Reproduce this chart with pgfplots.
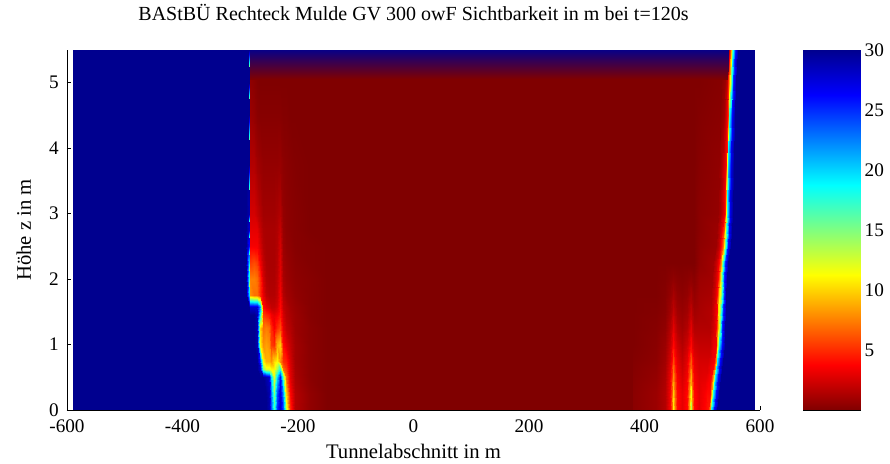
\documentclass[border=0pt]{standalone}
\usepackage{fontspec}
\setmainfont{Liberation Serif}
\usepackage{pgfplots}
\pgfplotsset{compat=1.18}
% band colormap first, reversed jet last (the last one defined is the active one)
\pgfplotsset{
  colormap={bandmap}{rgb255=(128,0,0) rgb255=(0,0,143)},
  colormap={jetrev}{rgb255(0cm)=(128,0,0); rgb255(1cm)=(255,0,0); rgb255(3cm)=(255,255,0);
    rgb255(5cm)=(0,255,255); rgb255(7cm)=(0,0,255); rgb255(8cm)=(0,0,143)},
}
\newcommand{\lblfont}{\fontsize{15.5}{18}\selectfont}
\newcommand{\ttlfont}{\fontsize{15}{18}\selectfont}
\newcommand{\tckfont}{\fontsize{14.4}{16}\selectfont}

\begin{document}
\begin{tikzpicture}
\begin{axis}[
  scale only axis, width=519.75pt, height=270pt,
  at={(0,0)}, anchor=south west,
  xmin=-600, xmax=600, ymin=0, ymax=5.5,
  xtick={-600,-400,...,600}, ytick={0,1,...,5},
  axis x line*=bottom, axis y line*=left,
  tick align=inside, major tick length=3pt,
  axis line style={line width=0.6pt},
  tick style={line width=0.6pt, black},
  /pgf/number format/assume math mode=true,
  tick label style={font=\tckfont},
  xticklabel style={anchor=base, yshift=-17.25pt},
  yticklabel style={anchor=east, xshift=-2.7pt},
  colormap name=jetrev, point meta min=0, point meta max=30,
  title={BAStBÜ Rechteck Mulde GV 300 owF Sichtbarkeit in m bei t=120s},
  title style={font=\ttlfont, at={(axis description cs:0.5,1.0611)}, anchor=base, yshift=0pt},
  xlabel={Tunnelabschnitt in m},
  xlabel style={font=\lblfont, at={(axis description cs:0.5,-0.1361)}, anchor=base},
  ylabel={Höhe z in m},
  ylabel style={font=\lblfont, at={(axis description cs:-0.052,0.5)}, anchor=base},
]
% left edge of the smoke front
\addplot[surf, shader=interp, point meta=explicit, mesh/cols=20] coordinates {
(-590,0)[30] (-290,0)[30] (-284,0)[30] (-283,0)[30] (-276,0)[30] (-271,0)[30] (-266,0)[30] (-261,0)[30] (-256,0)[30] (-251,0)[29] (-246,0)[24] (-241,0)[17] (-236,0)[25] (-231,0)[28] (-226,0)[24] (-220,0)[13] (-214,0)[5] (-205,0)[1.5] (-180,0)[0.5] (-150,0)[0]
(-590,0.25)[30] (-290,0.25)[30] (-284,0.25)[30] (-283,0.25)[30] (-276,0.25)[30] (-271,0.25)[30] (-266,0.25)[30] (-261,0.25)[30] (-256,0.25)[30] (-251,0.25)[29] (-246,0.25)[23] (-241,0.25)[15] (-236,0.25)[24] (-231,0.25)[28] (-226,0.25)[22] (-220,0.25)[10] (-214,0.25)[4] (-205,0.25)[1.5] (-180,0.25)[0.5] (-150,0.25)[0]
(-590,0.5)[30] (-290,0.5)[30] (-284,0.5)[30] (-283,0.5)[30] (-276,0.5)[30] (-271,0.5)[30] (-266,0.5)[30] (-261,0.5)[30] (-256,0.5)[29] (-251,0.5)[28] (-246,0.5)[20] (-241,0.5)[12] (-236,0.5)[20] (-231,0.5)[26] (-226,0.5)[16] (-220,0.5)[7] (-214,0.5)[3] (-205,0.5)[1.2] (-180,0.5)[0.3] (-150,0.5)[0]
(-590,0.62)[30] (-290,0.62)[30] (-284,0.62)[30] (-283,0.62)[30] (-276,0.62)[30] (-271,0.62)[30] (-266,0.62)[28] (-261,0.62)[15] (-256,0.62)[12] (-251,0.62)[12] (-246,0.62)[11] (-241,0.62)[11] (-236,0.62)[14] (-231,0.62)[18] (-226,0.62)[7] (-220,0.62)[5.5] (-214,0.62)[2.8] (-205,0.62)[1.1] (-180,0.62)[0.3] (-150,0.62)[0]
(-590,0.75)[30] (-290,0.75)[30] (-284,0.75)[30] (-283,0.75)[30] (-276,0.75)[30] (-271,0.75)[30] (-266,0.75)[25] (-261,0.75)[11] (-256,0.75)[9] (-251,0.75)[9] (-246,0.75)[8] (-241,0.75)[10] (-236,0.75)[11] (-231,0.75)[8] (-226,0.75)[5] (-220,0.75)[4.5] (-214,0.75)[2.5] (-205,0.75)[1] (-180,0.75)[0.3] (-150,0.75)[0]
(-590,1)[30] (-290,1)[30] (-284,1)[30] (-283,1)[30] (-276,1)[30] (-271,1)[29] (-266,1)[11] (-261,1)[8] (-256,1)[8.5] (-251,1)[8] (-246,1)[5.5] (-241,1)[5] (-236,1)[9] (-231,1)[10] (-226,1)[4] (-220,1)[3] (-214,1)[2] (-205,1)[1] (-180,1)[0.3] (-150,1)[0]
(-590,1.25)[30] (-290,1.25)[30] (-284,1.25)[30] (-283,1.25)[30] (-276,1.25)[30] (-271,1.25)[29] (-266,1.25)[10] (-261,1.25)[7] (-256,1.25)[7.5] (-251,1.25)[7] (-246,1.25)[5] (-241,1.25)[3.5] (-236,1.25)[5] (-231,1.25)[6] (-226,1.25)[3] (-220,1.25)[2] (-214,1.25)[1.5] (-205,1.25)[0.8] (-180,1.25)[0.3] (-150,1.25)[0]
(-590,1.45)[30] (-290,1.45)[30] (-284,1.45)[30] (-283,1.45)[30] (-276,1.45)[30] (-271,1.45)[29] (-266,1.45)[18] (-261,1.45)[5.5] (-256,1.45)[5] (-251,1.45)[4.5] (-246,1.45)[3.5] (-241,1.45)[3] (-236,1.45)[3.5] (-231,1.45)[4.5] (-226,1.45)[2.5] (-220,1.45)[1.6] (-214,1.45)[1.2] (-205,1.45)[0.8] (-180,1.45)[0.2] (-150,1.45)[0]
(-590,1.58)[30] (-290,1.58)[30] (-284,1.58)[30] (-283,1.58)[28] (-276,1.58)[28] (-271,1.58)[28] (-266,1.58)[22] (-261,1.58)[4] (-256,1.58)[3] (-251,1.58)[2.5] (-246,1.58)[2] (-241,1.58)[2] (-236,1.58)[2.5] (-231,1.58)[4] (-226,1.58)[2] (-220,1.58)[1.5] (-214,1.58)[1] (-205,1.58)[0.7] (-180,1.58)[0.2] (-150,1.58)[0]
(-590,1.75)[30] (-290,1.75)[30] (-284,1.75)[20] (-283,1.75)[8] (-276,1.75)[7] (-271,1.75)[7] (-266,1.75)[5] (-261,1.75)[3] (-256,1.75)[1.8] (-251,1.75)[1.5] (-246,1.75)[1.5] (-241,1.75)[1.5] (-236,1.75)[2] (-231,1.75)[3.5] (-226,1.75)[1.5] (-220,1.75)[1] (-214,1.75)[0.8] (-205,1.75)[0.5] (-180,1.75)[0.2] (-150,1.75)[0]
(-590,2)[30] (-290,2)[30] (-284,2)[18] (-283,2)[7.5] (-276,2)[7.5] (-271,2)[7] (-266,2)[5] (-261,2)[2.5] (-256,2)[1.5] (-251,2)[1.3] (-246,2)[1.3] (-241,2)[1.3] (-236,2)[1.8] (-231,2)[3] (-226,2)[1.2] (-220,2)[0.8] (-214,2)[0.6] (-205,2)[0.4] (-180,2)[0.2] (-150,2)[0]
(-590,2.25)[30] (-290,2.25)[30] (-284,2.25)[20] (-283,2.25)[5.5] (-276,2.25)[6] (-271,2.25)[5.5] (-266,2.25)[3.5] (-261,2.25)[2] (-256,2.25)[1.3] (-251,2.25)[1.2] (-246,2.25)[1.2] (-241,2.25)[1.2] (-236,2.25)[1.6] (-231,2.25)[2.8] (-226,2.25)[1] (-220,2.25)[0.7] (-214,2.25)[0.5] (-205,2.25)[0.3] (-180,2.25)[0.1] (-150,2.25)[0]
(-590,2.5)[30] (-290,2.5)[30] (-284,2.5)[26] (-283,2.5)[3.5] (-276,2.5)[3.5] (-271,2.5)[3.5] (-266,2.5)[2.5] (-261,2.5)[1.5] (-256,2.5)[1.2] (-251,2.5)[1.2] (-246,2.5)[1.2] (-241,2.5)[1.2] (-236,2.5)[1.5] (-231,2.5)[2.5] (-226,2.5)[0.8] (-220,2.5)[0.5] (-214,2.5)[0.4] (-205,2.5)[0.2] (-180,2.5)[0.1] (-150,2.5)[0]
(-590,2.75)[30] (-290,2.75)[30] (-284,2.75)[28] (-283,2.75)[3] (-276,2.75)[3] (-271,2.75)[3] (-266,2.75)[2] (-261,2.75)[1.3] (-256,2.75)[1.2] (-251,2.75)[1.2] (-246,2.75)[1.2] (-241,2.75)[1.2] (-236,2.75)[1.4] (-231,2.75)[2] (-226,2.75)[0.7] (-220,2.75)[0.4] (-214,2.75)[0.3] (-205,2.75)[0.2] (-180,2.75)[0] (-150,2.75)[0]
(-590,3)[30] (-290,3)[30] (-284,3)[29] (-283,3)[2.5] (-276,3)[2.5] (-271,3)[2] (-266,3)[1.5] (-261,3)[1] (-256,3)[1] (-251,3)[1] (-246,3)[1] (-241,3)[1] (-236,3)[1.2] (-231,3)[1.5] (-226,3)[0.6] (-220,3)[0.4] (-214,3)[0.3] (-205,3)[0.2] (-180,3)[0] (-150,3)[0]
(-590,3.75)[30] (-290,3.75)[30] (-284,3.75)[30] (-283,3.75)[1.5] (-276,3.75)[1.5] (-271,3.75)[1] (-266,3.75)[0.8] (-261,3.75)[0.6] (-256,3.75)[0.6] (-251,3.75)[0.6] (-246,3.75)[0.6] (-241,3.75)[0.6] (-236,3.75)[0.6] (-231,3.75)[0.7] (-226,3.75)[0.4] (-220,3.75)[0.3] (-214,3.75)[0.2] (-205,3.75)[0.1] (-180,3.75)[0] (-150,3.75)[0]
(-590,4.5)[30] (-290,4.5)[30] (-284,4.5)[30] (-283,4.5)[0.8] (-276,4.5)[0.6] (-271,4.5)[0.3] (-266,4.5)[0.2] (-261,4.5)[0.2] (-256,4.5)[0.2] (-251,4.5)[0.2] (-246,4.5)[0.2] (-241,4.5)[0.2] (-236,4.5)[0.2] (-231,4.5)[0.2] (-226,4.5)[0.1] (-220,4.5)[0.1] (-214,4.5)[0] (-205,4.5)[0] (-180,4.5)[0] (-150,4.5)[0]
(-590,5)[30] (-290,5)[30] (-284,5)[30] (-283,5)[0.5] (-276,5)[0.3] (-271,5)[0.1] (-266,5)[0] (-261,5)[0] (-256,5)[0] (-251,5)[0] (-246,5)[0] (-241,5)[0] (-236,5)[0] (-231,5)[0] (-226,5)[0] (-220,5)[0] (-214,5)[0] (-205,5)[0] (-180,5)[0] (-150,5)[0]
(-590,5.5)[30] (-290,5.5)[30] (-284,5.5)[30] (-283,5.5)[0] (-276,5.5)[0] (-271,5.5)[0] (-266,5.5)[0] (-261,5.5)[0] (-256,5.5)[0] (-251,5.5)[0] (-246,5.5)[0] (-241,5.5)[0] (-236,5.5)[0] (-231,5.5)[0] (-226,5.5)[0] (-220,5.5)[0] (-214,5.5)[0] (-205,5.5)[0] (-180,5.5)[0] (-150,5.5)[0]
};
% smoke-filled middle
\addplot[surf, shader=interp, point meta=explicit, mesh/cols=2] coordinates {
(-150,0)[0] (380,0)[0]
(-150,5.5)[0] (380,5.5)[0]
};
% right edge of the smoke front
\addplot[surf, shader=interp, point meta=explicit, mesh/cols=23] coordinates {
(380,0)[0.3] (420,0)[0.8] (435,0)[1.5] (444,0)[3.5] (447,0)[7] (450,0)[11] (453,0)[7] (456,0)[4] (465,0)[3] (474,0)[4] (477,0)[8] (480,0)[14] (483,0)[8] (486,0)[4] (494,0)[3] (500,0)[3.5] (506,0)[4] (510,0)[4.5] (513,0)[8] (516,0)[18] (521,0)[26] (526,0)[30] (590,0)[30]
(380,0.25)[0.3] (420,0.25)[0.8] (435,0.25)[1.5] (444,0.25)[3.5] (447,0.25)[6.5] (450,0.25)[10] (453,0.25)[6.5] (456,0.25)[4] (465,0.25)[3] (474,0.25)[4] (477,0.25)[7.5] (480,0.25)[12] (483,0.25)[7.5] (486,0.25)[4] (494,0.25)[3] (503,0.25)[3.5] (509,0.25)[4] (513,0.25)[4] (516,0.25)[8] (519,0.25)[18] (524,0.25)[26] (529,0.25)[30] (590,0.25)[30]
(380,0.5)[0.2] (420,0.5)[0.6] (435,0.5)[1.3] (444,0.5)[3.2] (447,0.5)[5.5] (450,0.5)[8] (453,0.5)[5.5] (456,0.5)[3.5] (465,0.5)[2.5] (474,0.5)[3.5] (477,0.5)[6] (480,0.5)[9] (483,0.5)[6] (486,0.5)[3.5] (494,0.5)[2.8] (506,0.5)[3] (512,0.5)[3.5] (516,0.5)[4] (519,0.5)[8] (522,0.5)[19] (527,0.5)[26] (532,0.5)[30] (590,0.5)[30]
(380,0.75)[0.1] (420,0.75)[0.4] (435,0.75)[1] (444,0.75)[2.5] (447,0.75)[4] (450,0.75)[6] (453,0.75)[4] (456,0.75)[3] (465,0.75)[2] (474,0.75)[3] (477,0.75)[4.5] (480,0.75)[6.5] (483,0.75)[4.5] (486,0.75)[3] (494,0.75)[2.5] (510,0.75)[2.5] (516,0.75)[3] (520,0.75)[3.5] (523,0.75)[8] (526,0.75)[19] (531,0.75)[26] (536,0.75)[30] (590,0.75)[30]
(380,1)[0] (420,1)[0.3] (435,1)[0.8] (444,1)[2] (447,1)[3] (450,1)[4] (453,1)[3] (456,1)[2.3] (465,1)[1.5] (474,1)[2.3] (477,1)[3] (480,1)[4] (483,1)[3] (486,1)[2.3] (494,1)[2] (513,1)[2] (519,1)[3] (523,1)[3.5] (526,1)[9] (529,1)[19] (534,1)[26] (539,1)[30] (590,1)[30]
(380,1.25)[0] (420,1.25)[0.2] (435,1.25)[0.5] (444,1.25)[1.5] (447,1.25)[2.2] (450,1.25)[3] (453,1.25)[2.2] (456,1.25)[1.5] (465,1.25)[1] (474,1.25)[1.5] (477,1.25)[2.2] (480,1.25)[3] (483,1.25)[2.2] (486,1.25)[1.5] (494,1.25)[1.5] (514,1.25)[1.5] (520,1.25)[2.5] (524,1.25)[3.5] (527,1.25)[9] (530,1.25)[16] (535,1.25)[25] (540,1.25)[30] (590,1.25)[30]
(380,1.5)[0] (420,1.5)[0.1] (435,1.5)[0.3] (444,1.5)[1] (447,1.5)[1.5] (450,1.5)[2] (453,1.5)[1.5] (456,1.5)[1] (465,1.5)[0.7] (474,1.5)[1] (477,1.5)[1.5] (480,1.5)[2] (483,1.5)[1.5] (486,1.5)[1] (494,1.5)[1.2] (515,1.5)[1.5] (521,1.5)[2.5] (525,1.5)[4] (528,1.5)[10] (531,1.5)[14] (536,1.5)[25] (541,1.5)[30] (590,1.5)[30]
(380,1.75)[0] (420,1.75)[0] (435,1.75)[0.2] (444,1.75)[0.6] (447,1.75)[0.9] (450,1.75)[1.2] (453,1.75)[0.9] (456,1.75)[0.6] (465,1.75)[0.4] (474,1.75)[0.6] (477,1.75)[0.9] (480,1.75)[1.2] (483,1.75)[0.9] (486,1.75)[0.6] (494,1.75)[1] (516,1.75)[1.2] (522,1.75)[2.5] (526,1.75)[4] (529,1.75)[10] (532,1.75)[14] (537,1.75)[25] (542,1.75)[30] (590,1.75)[30]
(380,2)[0] (420,2)[0] (435,2)[0.1] (444,2)[0.3] (447,2)[0.4] (450,2)[0.5] (453,2)[0.4] (456,2)[0.3] (465,2)[0.2] (474,2)[0.3] (477,2)[0.4] (480,2)[0.5] (483,2)[0.4] (486,2)[0.3] (494,2)[0.8] (517,2)[1] (523,2)[2.5] (527,2)[4] (530,2)[9] (533,2)[13] (538,2)[25] (543,2)[30] (590,2)[30]
(380,2.25)[0] (420,2.25)[0] (435,2.25)[0] (444,2.25)[0] (447,2.25)[0] (450,2.25)[0] (453,2.25)[0] (456,2.25)[0] (465,2.25)[0] (474,2.25)[0] (477,2.25)[0] (480,2.25)[0] (483,2.25)[0] (486,2.25)[0] (494,2.25)[0.5] (519,2.25)[1] (525,2.25)[2.5] (529,2.25)[4] (532,2.25)[8] (535,2.25)[14] (540,2.25)[25] (545,2.25)[30] (590,2.25)[30]
(380,2.5)[0] (420,2.5)[0] (435,2.5)[0] (444,2.5)[0] (447,2.5)[0] (450,2.5)[0] (453,2.5)[0] (456,2.5)[0] (465,2.5)[0] (474,2.5)[0] (477,2.5)[0] (480,2.5)[0] (483,2.5)[0] (486,2.5)[0] (494,2.5)[0.4] (523,2.5)[0.8] (529,2.5)[2] (533,2.5)[4] (536,2.5)[7] (539,2.5)[15] (544,2.5)[26] (549,2.5)[30] (590,2.5)[30]
(380,2.75)[0] (420,2.75)[0] (435,2.75)[0] (444,2.75)[0] (447,2.75)[0] (450,2.75)[0] (453,2.75)[0] (456,2.75)[0] (465,2.75)[0] (474,2.75)[0] (477,2.75)[0] (480,2.75)[0] (483,2.75)[0] (486,2.75)[0] (494,2.75)[0.3] (525,2.75)[0.8] (531,2.75)[2] (535,2.75)[3.5] (538,2.75)[6] (541,2.75)[16] (546,2.75)[26] (551,2.75)[30] (590,2.75)[30]
(380,3)[0] (420,3)[0] (435,3)[0] (444,3)[0] (447,3)[0] (450,3)[0] (453,3)[0] (456,3)[0] (465,3)[0] (474,3)[0] (477,3)[0] (480,3)[0] (483,3)[0] (486,3)[0] (494,3)[0.3] (527,3)[0.6] (533,3)[1.5] (537,3)[3] (540,3)[4.5] (543,3)[18] (548,3)[27] (553,3)[30] (590,3)[30]
(380,3.75)[0] (420,3.75)[0] (435,3.75)[0] (444,3.75)[0] (447,3.75)[0] (450,3.75)[0] (453,3.75)[0] (456,3.75)[0] (465,3.75)[0] (474,3.75)[0] (477,3.75)[0] (480,3.75)[0] (483,3.75)[0] (486,3.75)[0] (494,3.75)[0.2] (529,3.75)[0.5] (535,3.75)[1.5] (539,3.75)[3] (542,3.75)[4] (545,3.75)[20] (550,3.75)[27] (555,3.75)[30] (590,3.75)[30]
(380,4.5)[0] (420,4.5)[0] (435,4.5)[0] (444,4.5)[0] (447,4.5)[0] (450,4.5)[0] (453,4.5)[0] (456,4.5)[0] (465,4.5)[0] (474,4.5)[0] (477,4.5)[0] (480,4.5)[0] (483,4.5)[0] (486,4.5)[0] (494,4.5)[0.1] (531,4.5)[0.3] (537,4.5)[1] (541,4.5)[2.5] (544,4.5)[5] (547,4.5)[17] (552,4.5)[26] (557,4.5)[30] (590,4.5)[30]
(380,5)[0] (420,5)[0] (435,5)[0] (444,5)[0] (447,5)[0] (450,5)[0] (453,5)[0] (456,5)[0] (465,5)[0] (474,5)[0] (477,5)[0] (480,5)[0] (483,5)[0] (486,5)[0] (494,5)[0] (533,5)[0.2] (539,5)[0.8] (543,5)[2] (546,5)[8] (549,5)[15] (554,5)[25] (559,5)[30] (590,5)[30]
(380,5.5)[0] (420,5.5)[0] (435,5.5)[0] (444,5.5)[0] (447,5.5)[0] (450,5.5)[0] (453,5.5)[0] (456,5.5)[0] (465,5.5)[0] (474,5.5)[0] (477,5.5)[0] (480,5.5)[0] (483,5.5)[0] (486,5.5)[0] (494,5.5)[0] (536,5.5)[0] (542,5.5)[0.5] (546,5.5)[2] (549,5.5)[9] (552,5.5)[15] (557,5.5)[25] (562,5.5)[30] (590,5.5)[30]
};
% dark band under the ceiling
\addplot[surf, shader=interp, point meta=explicit, mesh/cols=2, colormap name=bandmap] coordinates {
(-283,5.05)[0] (543,5.05)[0]
(-283,5.5)[28] (546,5.5)[28]
};
\end{axis}
% colour scale
\begin{axis}[
  at={(552pt,0pt)}, anchor=south west,
  scale only axis, width=42.75pt, height=270pt,
  xmin=0, xmax=1, ymin=0, ymax=30,
  xtick=\empty, ytick={5,10,...,30},
  ytick pos=both, yticklabel pos=right,
  tick align=inside, major tick length=3pt,
  axis line style={line width=0.6pt},
  tick style={line width=0.6pt, black},
  /pgf/number format/assume math mode=true,
  tick label style={font=\tckfont},
  colormap name=jetrev, point meta min=0, point meta max=30,
]
\addplot[surf, shader=interp, point meta=explicit, mesh/cols=2] coordinates {
(0,0)[0] (1,0)[0]
(0,30)[30] (1,30)[30]
};
\end{axis}
\pgfresetboundingbox
\path[use as bounding box] (-50.25pt,-40.5pt) rectangle (617.25pt,307.5pt);
\end{tikzpicture}
\end{document}
